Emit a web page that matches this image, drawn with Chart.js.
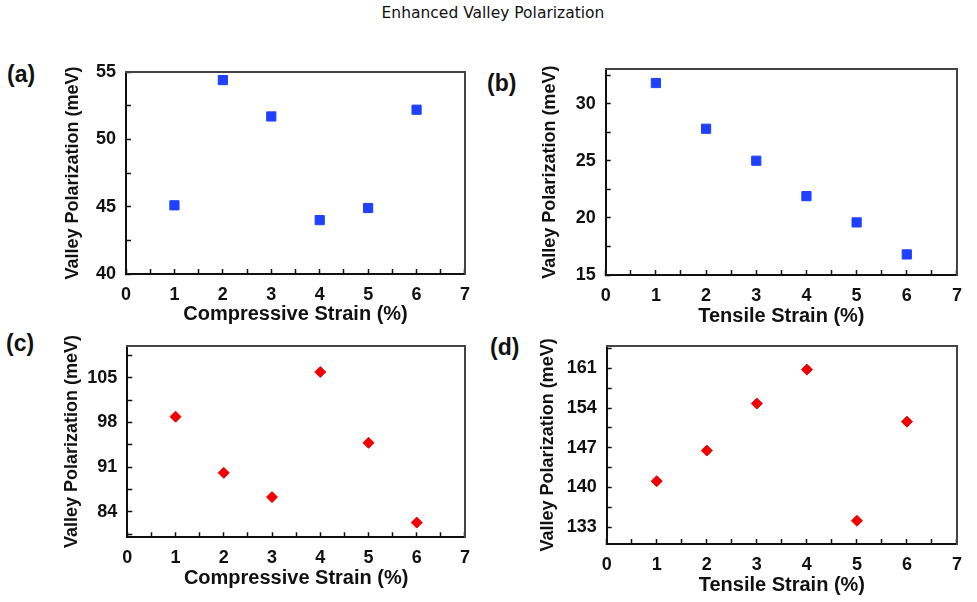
<!DOCTYPE html>
<html>
<head>
<meta charset="utf-8">
<script src="https://cdn.jsdelivr.net/npm/chart.js@4/dist/chart.umd.min.js"></script>
<style>
  body { margin: 0; background: #fff; }
  #page { position: relative; width: 977px; height: 602px; overflow: hidden; }
  .box { position: absolute; }
  .lbl { position: absolute; font: bold 23px "Liberation Sans", Arial, sans-serif; color: #111; line-height: 1; }
  #title { position: absolute; left: 300px; width: 386px; top: 4px; text-align: center;
           font: 15.5px "DejaVu Sans", sans-serif; color: #111; }
</style>
</head>
<body>
<div id="page">
  <div id="title">Enhanced Valley Polarization</div>
  <div class="lbl" style="left:7px;top:63px">(a)</div>
  <div class="lbl" style="left:487px;top:72px">(b)</div>
  <div class="lbl" style="left:6px;top:332px">(c)</div>
  <div class="lbl" style="left:490px;top:336px">(d)</div>
  <div class="box" style="left:0;top:40px;width:485px;height:300px"><canvas id="ca"></canvas></div>
  <div class="box" style="left:485px;top:40px;width:492px;height:300px"><canvas id="cb"></canvas></div>
  <div class="box" style="left:0;top:320px;width:485px;height:282px"><canvas id="cc"></canvas></div>
  <div class="box" style="left:485px;top:320px;width:492px;height:282px"><canvas id="cd"></canvas></div>
</div>
<script>
// strain values (%)
const strain = [1, 2, 3, 4, 5, 6]
// valley polarization (meV)
const compressiveA = [45.1, 54.4, 51.7, 44.0, 44.9, 52.2]
const tensileB = [31.8, 27.8, 25.0, 21.9, 19.6, 16.8]
const compressiveC = [98.9, 90.1, 86.3, 105.9, 94.8, 82.3]
const tensileD = [141.1, 146.5, 154.8, 160.8, 134.1, 151.6]

// tick values (major ones get a label, the others are minor)
const xTicks = [0, 0.5, 1, 1.5, 2, 2.5, 3, 3.5, 4, 4.5, 5, 5.5, 6, 6.5, 7]
const xLabels = [0, 1, 2, 3, 4, 5, 6, 7]
const yTicksA = [40, 42.5, 45, 47.5, 50, 52.5, 55]
const yLabelsA = [40, 45, 50, 55]
const yTicksB = [15, 17.5, 20, 22.5, 25, 27.5, 30, 32.5]
const yLabelsB = [15, 20, 25, 30]
const yTicksC = [80.5, 84, 87.5, 91, 94.5, 98, 101.5, 105, 108.5]
const yLabelsC = [84, 91, 98, 105]
const yTicksD = [133, 136.5, 140, 143.5, 147, 150.5, 154, 157.5, 161, 164.5]
const yLabelsD = [133, 140, 147, 154, 161]

const blue = '#2040ff'
const red = '#f00000'
const fontFam = '"Liberation Sans", Arial, sans-serif'

function make_panel(id, o) {
    const points = strain.map((x, i) => ({x: x, y: o.values[i]}))
    new Chart(document.getElementById(id), {
        type: 'scatter',
        data: {
            datasets: [{
                data: points,
                pointStyle: o.style,
                pointRadius: o.radius,
                pointHoverRadius: o.radius,
                pointBorderWidth: 1,
                backgroundColor: o.color,
                borderColor: o.color,
            }]
        },
        options: {
            responsive: true,
            maintainAspectRatio: false,
            animation: false,
            events: [],
            layout: {padding: o.pad},
            plugins: {legend: {display: false}, tooltip: {enabled: false}},
            scales: {
                x: {
                    type: 'linear', position: 'bottom', min: 0, max: 7,
                    afterBuildTicks: s => { s.ticks = xTicks.map(v => ({value: v})) },
                    afterFit: s => { s.height = o.xh },
                    grid: {drawOnChartArea: false, tickLength: -5, tickColor: '#111', tickWidth: 1.5},
                    border: {color: '#111', width: 2},
                    ticks: {
                        padding: 15, color: '#111', maxRotation: 0, autoSkip: false,
                        font: {family: fontFam, size: 18, weight: 'bold'},
                        callback: v => xLabels.includes(v) ? v : ''
                    },
                    title: {display: true, text: o.xTitle, color: '#111', padding: 0,
                        font: {family: fontFam, size: 20, weight: 'bold'}}
                },
                y: {
                    type: 'linear', position: 'left', min: o.ymin, max: o.ymax,
                    afterBuildTicks: s => { s.ticks = o.yTicks.map(v => ({value: v})) },
                    afterFit: s => { s.width = o.yw },
                    grid: {drawOnChartArea: false, tickLength: -5, tickColor: '#111', tickWidth: 1.5},
                    border: {color: '#111', width: 2},
                    ticks: {
                        padding: 15, color: '#111', autoSkip: false,
                        font: {family: fontFam, size: 18, weight: 'bold'},
                        callback: v => o.yLabels.includes(v) ? v : ''
                    },
                    title: {display: true, text: 'Valley Polarization (meV)', color: '#111', padding: 0,
                        font: {family: fontFam, size: 18, weight: 'bold'}}
                },
                x2: {
                    type: 'linear', position: 'top', min: 0, max: 7,
                    afterFit: s => { s.height = 0 },
                    grid: {display: false}, ticks: {display: false},
                    border: {color: '#444', width: 2}
                },
                y2: {
                    type: 'linear', position: 'right', min: o.ymin, max: o.ymax,
                    afterFit: s => { s.width = 0 },
                    grid: {display: false}, ticks: {display: false},
                    border: {color: '#444', width: 2}
                }
            }
        }
    })
}

make_panel('ca', {
    values: compressiveA, style: 'rect', radius: 6.5, color: blue,
    xTitle: 'Compressive Strain (%)', ymin: 40, ymax: 55,
    yTicks: yTicksA, yLabels: yLabelsA,
    pad: {left: 62, top: 32, right: 20, bottom: 14}, yw: 64, xh: 52
})
make_panel('cb', {
    values: tensileB, style: 'rect', radius: 6.5, color: blue,
    xTitle: 'Tensile Strain (%)', ymin: 15, ymax: 33,
    yTicks: yTicksB, yLabels: yLabelsB,
    pad: {left: 54.2, top: 29.3, right: 13.7, bottom: 11.5}, yw: 66.5, xh: 53.5
})
make_panel('cc', {
    values: compressiveC, style: 'rectRot', radius: 5.5, color: red,
    xTitle: 'Compressive Strain (%)', ymin: 80, ymax: 110,
    yTicks: yTicksC, yLabels: yLabelsC,
    pad: {left: 60.9, top: 15.7, right: 19, bottom: 11.5}, yw: 66.4, xh: 53.2
})
make_panel('cd', {
    values: tensileD, style: 'rectRot', radius: 5.5, color: red,
    xTitle: 'Tensile Strain (%)', ymin: 130, ymax: 165,
    yTicks: yTicksD, yLabels: yLabelsD,
    pad: {left: 51.9, top: 19, right: 12, bottom: 5}, yw: 69.8, xh: 53
})
</script>
</body>
</html>
